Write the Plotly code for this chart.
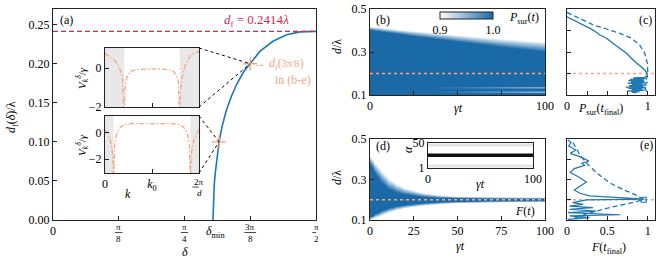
import numpy as np
import plotly.graph_objects as go

W, H = 660, 264
FONT = "Liberation Serif, DejaVu Serif, serif"
BLUE = "#1f77b4"
HEAT_BLUE = "#1b6aa8"
SALMON = "#f4a582"
CRIMSON = "#d6274d"
LC = "#222222"

# ---------------- panel (a): d_f(delta) ----------------
delta_curve = [0.9553, 0.9565, 0.959, 0.963, 0.969, 0.977, 0.992, 1.010, 1.035, 1.065,
               1.100, 1.140, 1.178, 1.237, 1.316, 1.396, 1.475, 1.5708]
df_curve = [0.000, 0.015, 0.030, 0.045, 0.060, 0.075, 0.100, 0.120, 0.140, 0.158,
            0.175, 0.190, 0.200, 0.216, 0.229, 0.237, 0.2407, 0.2414]
df_limit = 0.2414
delta_min = 0.9553
cross_delta = [3 * np.pi / 8, 0.992]
cross_df = [0.200, 0.100]
a_xtickvals = [0, np.pi / 8, np.pi / 4, 3 * np.pi / 8, np.pi / 2]
a_frac_num = ["", "π", "π", "3π", "π"]
a_frac_den = ["0", "8", "4", "8", "2"]
a_ytickvals = [0.00, 0.05, 0.10, 0.15, 0.20, 0.25]

# inset 1 (delta = 3pi/8)
k1 = [0, 0.089, 0.143, 0.179, 0.189, 0.200, 0.204, 0.211, 0.221, 0.239, 0.268, 0.321, 0.411, 0.5,
      0.589, 0.679, 0.732, 0.761, 0.779, 0.789, 0.796, 0.800, 0.811, 0.820, 0.857, 0.911, 0.96, 1.0]
V1 = [0.74, 0.48, 0.12, -0.32, -0.67, -1.2, -3.0, -1.2, -0.67, -0.41, -0.18, -0.09, -0.05, -0.04,
      -0.05, -0.09, -0.18, -0.41, -0.67, -1.2, -3.0, -1.2, -0.67, -0.50, 0.21, 0.65, 0.80, 0.85]
gap1 = [0.204, 0.796]
# inset 2 (delta near delta_min)
k2 = [0, 0.025, 0.055, 0.073, 0.085, 0.091, 0.097, 0.102, 0.116, 0.135, 0.164, 0.2, 0.273, 0.5,
      0.727, 0.8, 0.836, 0.865, 0.884, 0.898, 0.903, 0.909, 0.915, 0.927, 0.945, 0.975, 1.0]
V2 = [0.2, -0.05, -0.55, -1.2, -2.0, -4.0, -2.0, -1.05, -0.3, 0.08, 0.4, 0.58, 0.68, 0.70,
      0.68, 0.58, 0.4, 0.08, -0.3, -1.05, -2.0, -4.0, -2.0, -1.2, -0.55, -0.05, 0.25]
gap2 = [0.091, 0.909]

# ---------------- panel (b): P_sur(t) map ----------------
b_edge_t = [0, 25, 50, 75, 100]
b_edge_white = [0.418, 0.398, 0.379, 0.362, 0.348]
b_edge_full = [0.402, 0.373, 0.348, 0.323, 0.301]
stripe_d = [0.112, 0.118, 0.124, 0.130, 0.136, 0.142, 0.148]
stripe_depth = [0.05, 0.03, 0.06, 0.025, 0.045, 0.02, 0.03]
stripe_onset = 35

# ---------------- panel (c): P_sur(t_final) ----------------
c_solid_d = [0.464, 0.449, 0.433, 0.418, 0.402, 0.379, 0.364, 0.340, 0.317, 0.294, 0.263, 0.235,
             0.216, 0.201, 0.188, 0.182, 0.179, 0.176, 0.173, 0.170, 0.167, 0.164, 0.161, 0.158,
             0.155, 0.152, 0.149, 0.146, 0.143, 0.140, 0.137, 0.134, 0.131, 0.128, 0.125, 0.122,
             0.119, 0.116, 0.113, 0.110]
c_solid_P = [0.000, 0.078, 0.160, 0.243, 0.325, 0.407, 0.490, 0.572, 0.654, 0.737, 0.819, 0.901,
             0.963, 0.992, 0.99, 0.96, 0.82, 0.97, 0.78, 0.95, 0.76, 0.96, 0.79, 0.97, 0.75, 0.94,
             0.80, 0.97, 0.77, 0.95, 0.73, 0.98, 0.76, 0.93, 0.80, 0.96, 0.75, 0.90, 0.80, 0.86]
c_dash_d = [0.484, 0.457, 0.426, 0.407, 0.387, 0.364, 0.333, 0.294, 0.247, 0.209, 0.185, 0.170,
            0.160, 0.150, 0.140, 0.130, 0.120, 0.110]
c_dash_P = [0.000, 0.160, 0.325, 0.490, 0.654, 0.800, 0.900, 0.963, 0.996, 1.000, 0.995, 0.975,
            0.995, 0.965, 0.99, 0.965, 0.985, 0.97]

# ---------------- panel (d): F(t) map ----------------
f_t = [0, 5, 10, 15, 20, 30, 40, 50, 75, 100]
f_up_out = [0.415, 0.360, 0.310, 0.280, 0.258, 0.234, 0.222, 0.216, 0.213, 0.212]
f_up_in = [0.375, 0.300, 0.255, 0.235, 0.225, 0.213, 0.208, 0.206, 0.204, 0.203]
f_lo_in = [0.115, 0.140, 0.158, 0.168, 0.175, 0.184, 0.189, 0.192, 0.195, 0.196]
f_lo_out = [0.100, 0.115, 0.133, 0.148, 0.158, 0.170, 0.178, 0.183, 0.187, 0.189]
alpha_t = [0, 100]
alpha_line = [26, 26]
alpha_faint = [[46, 46], [5, 5]]

# ---------------- panel (e): F(t_final) ----------------
e_solid_d = [0.495, 0.482, 0.465, 0.446, 0.429, 0.413, 0.391, 0.380, 0.370, 0.354, 0.334, 0.314,
             0.288, 0.268, 0.248, 0.232, 0.219, 0.203, 0.199, 0.186, 0.177, 0.169, 0.161, 0.153,
             0.144, 0.136, 0.126, 0.120, 0.112, 0.103]
e_solid_F = [0.01, 0.05, 0.02, 0.11, 0.04, 0.16, 0.27, 0.18, 0.22, 0.09, 0.04, 0.14, 0.24, 0.16,
             0.09, 0.16, 0.28, 0.96, 0.24, 0.07, 0.20, 0.03, 0.32, 0.03, 0.36, 0.01, 0.66, 0.03,
             0.28, 0.01]
e_dash_d = [0.482, 0.424, 0.383, 0.334, 0.284, 0.251, 0.227, 0.200, 0.188, 0.177, 0.161, 0.144,
            0.123, 0.107]
e_dash_F = [0.074, 0.156, 0.239, 0.362, 0.527, 0.691, 0.835, 0.950, 0.835, 0.691, 0.527, 0.362,
            0.198, 0.074]
e_peak = [0.950, 0.200]

d_target = 0.200

# ---------------- layout geometry (pixels) ----------------
def px_x(x):
    return x / W

def px_y(y):
    return 1 - y / H

A_X = [px_x(53), px_x(316)]
A_Y = [px_y(220), px_y(9)]
B_X = [px_x(370), px_x(545)]
C_X = [px_x(567), px_x(655)]
TOP_Y = [px_y(95), px_y(9)]
BOT_Y = [px_y(220), px_y(139)]
I1_X = [px_x(105), px_x(199)]
I1_Y = [px_y(107), px_y(48)]
I2_Y = [px_y(173), px_y(116)]
ID_X = [px_x(428), px_x(533)]
ID_Y = [px_y(168), px_y(143)]
A_RANGE_X = [0, np.pi / 2]
A_RANGE_Y = [0, 0.27]
I1_RANGE = [-2.0, 1.03]
I2_RANGE = [-3.05, 1.25]

fig = go.Figure()

def sc(x, y, ax, **kw):
    fig.add_trace(go.Scatter(x=x, y=y, xaxis="x" + ax, yaxis="y" + ax, showlegend=False,
                             hoverinfo="skip", **kw))

# (a)
sc(delta_curve, df_curve, "", mode="lines", line=dict(color=BLUE, width=1.6))
sc([0, np.pi / 2], [df_limit, df_limit], "", mode="lines",
   line=dict(color=CRIMSON, width=1.3, dash="5px,3px"))
sc(cross_delta, cross_df, "", mode="markers",
   marker=dict(symbol="cross-thin", size=10, line=dict(color=SALMON, width=1.4)))

# inset 1
for g0, g1 in [(0, gap1[0]), (gap1[1], 1)]:
    sc([g0, g1, g1, g0, g0], [I1_RANGE[0], I1_RANGE[0], I1_RANGE[1], I1_RANGE[1], I1_RANGE[0]], "6",
       mode="lines", fill="toself", fillcolor="#e8e8e8", line=dict(width=0))
sc(k1, V1, "6", mode="lines", line=dict(color=SALMON, width=1.3, dash="5px,2px,1.5px,2px"))
# inset 2
for g0, g1 in [(0, gap2[0]), (gap2[1], 1)]:
    sc([g0, g1, g1, g0, g0], [I2_RANGE[0], I2_RANGE[0], I2_RANGE[1], I2_RANGE[1], I2_RANGE[0]], "7",
       mode="lines", fill="toself", fillcolor="#e8e8e8", line=dict(width=0))
sc(k2, V2, "7", mode="lines", line=dict(color=SALMON, width=1.3, dash="5px,2px,1.5px,2px"))

# (b) heatmap
t_grid = np.linspace(0, 100, 201)
d_grid = np.linspace(0.1, 0.5, 321)
T, D = np.meshgrid(t_grid, d_grid)
white = np.interp(T, b_edge_t, b_edge_white)
full = np.interp(T, b_edge_t, b_edge_full)
zb = 1.0 - 0.1 * np.clip((D - full) / (white - full), 0, 1.5)
onset = np.clip((T - stripe_onset) / (100 - stripe_onset), 0, 1)
for sd, dep in zip(stripe_d, stripe_depth):
    mask = np.abs(D - sd) < 0.0016
    zb = np.where(mask, np.minimum(zb, 1.0 - dep * onset), zb)
cscale = [[0, "#ffffff"], [1, HEAT_BLUE]]
fig.add_trace(go.Heatmap(x=t_grid, y=d_grid, z=zb, zmin=0.9, zmax=1.0, colorscale=cscale,
                         zsmooth="best", xaxis="x2", yaxis="y2", hoverinfo="skip",
                         colorbar=dict(orientation="h", x=px_x(466.5), xanchor="center",
                                       y=px_y(12), yanchor="top", len=53 / W, lenmode="fraction",
                                       thickness=7, thicknessmode="pixels", xpad=0, ypad=0,
                                       outlinewidth=1, outlinecolor=LC, ticks="",
                                       tickvals=[0.9, 1.0], ticktext=["0.9", "1.0"],
                                       tickfont=dict(family=FONT, size=12, color="black"))))
sc([0, 100], [d_target, d_target], "2", mode="lines", line=dict(color=SALMON, width=1.3, dash="dot"))

# (c)
sc([0, 1.09], [d_target, d_target], "3", mode="lines", line=dict(color=SALMON, width=1.3, dash="dot"))
sc(c_dash_P, c_dash_d, "3", mode="lines", line=dict(color=BLUE, width=1.3, dash="5px,3px"))
sc(c_solid_P, c_solid_d, "3", mode="lines", line=dict(color=BLUE, width=1.3))

# (d) heatmap
uo = np.interp(T, f_t, f_up_out)
ui = np.interp(T, f_t, f_up_in)
li = np.interp(T, f_t, f_lo_in)
lo = np.interp(T, f_t, f_lo_out)
zd = np.ones_like(D)
zd = np.where(D > ui, np.clip((uo - D) / (uo - ui), 0, 1), zd)
zd = np.where(D < li, np.clip((D - lo) / (li - lo), 0, 1), zd)
fig.add_trace(go.Heatmap(x=t_grid, y=d_grid, z=zd, zmin=0, zmax=1, colorscale=cscale,
                         zsmooth="best", showscale=False, xaxis="x4", yaxis="y4", hoverinfo="skip"))
sc([0, 100], [d_target, d_target], "4", mode="lines", line=dict(color=SALMON, width=1.3, dash="dot"))

# inset (d)
for fa in alpha_faint:
    sc(alpha_t, fa, "8", mode="lines", line=dict(color="#e4e4e4", width=3))
sc(alpha_t, alpha_line, "8", mode="lines", line=dict(color="#111111", width=3.5))

# (e)
sc([0, 1.09], [d_target, d_target], "5", mode="lines", line=dict(color=SALMON, width=1.3, dash="dot"))
sc(e_dash_F, e_dash_d, "5", mode="lines", line=dict(color=BLUE, width=1.3, dash="5px,3px"))
sc(e_solid_F, e_solid_d, "5", mode="lines", line=dict(color=BLUE, width=1.2))
sc([e_peak[0]], [e_peak[1]], "5", mode="markers",
   marker=dict(symbol="square-open", size=5, color=BLUE, line=dict(width=1.2)))


def axis(domain, rng, anchor, **kw):
    d = dict(domain=domain, range=rng, anchor=anchor, showline=True, mirror=True, linecolor=LC,
             linewidth=1, ticks="inside", ticklen=4, tickcolor=LC, tickwidth=1, showgrid=False,
             zeroline=False, tickfont=dict(family=FONT, size=12, color="black"), automargin=False)
    d.update(kw)
    return d


layout = dict(
    width=W, height=H, margin=dict(l=0, r=0, t=0, b=0, pad=0, autoexpand=False),
    paper_bgcolor="white", plot_bgcolor="white",
    font=dict(family=FONT, size=12, color="black"), showlegend=False,
    xaxis=axis(A_X, A_RANGE_X, "y", tickvals=a_xtickvals, showticklabels=False),
    yaxis=axis(A_Y, A_RANGE_Y, "x", tickvals=a_ytickvals, tickformat=".2f"),
    xaxis2=axis(B_X, [0, 100], "y2", tickvals=[0, 25, 50, 75, 100], ticktext=["0", "", "", "", "100"]),
    yaxis2=axis(TOP_Y, [0.1, 0.5], "x2", tickvals=[0.1, 0.3, 0.5], ticktext=["0.1", "0.3", "0.5"]),
    xaxis3=axis(C_X, [0, 1.09], "y3", tickvals=[0, 0.25, 0.5, 0.75, 1], ticktext=["0", "", "", "", "1"]),
    yaxis3=axis(TOP_Y, [0.1, 0.5], "x3", tickvals=[0.2, 0.3, 0.4], showticklabels=False),
    xaxis4=axis(B_X, [0, 100], "y4", tickvals=[0, 25, 50, 75, 100]),
    yaxis4=axis(BOT_Y, [0.1, 0.5], "x4", tickvals=[0.1, 0.3, 0.5], ticktext=["0.1", "0.3", "0.5"]),
    xaxis5=axis(C_X, [0, 1.09], "y5", tickvals=[0, 0.25, 0.5, 0.75, 1], ticktext=["0", "", "0.5", "", "1"]),
    yaxis5=axis(BOT_Y, [0.1, 0.5], "x5", tickvals=[0.2, 0.3, 0.4], showticklabels=False),
    xaxis6=axis(I1_X, [0, 1], "y6", tickvals=[0.5], showticklabels=False),
    yaxis6=axis(I1_Y, I1_RANGE, "x6", tickvals=[0, -2], ticktext=["0", "−2"]),
    xaxis7=axis(I1_X, [0, 1], "y7", tickvals=[0, 0.5, 1], ticktext=["0", "<i>k</i><sub>0</sub>", ""]),
    yaxis7=axis(I2_Y, I2_RANGE, "x7", tickvals=[0, -2], ticktext=["0", "−2"]),
    xaxis8=axis(ID_X, [0, 100], "y8", tickvals=[0, 100], ticks=""),
    yaxis8=axis(ID_Y, [1, 50], "x8", tickvals=[1, 50], ticks=""),
)

# dotted connectors from inset corners to the marked points (in panel-a data coords)
def to_a(xp, yp):
    xd = (xp - A_X[0]) / (A_X[1] - A_X[0]) * (A_RANGE_X[1] - A_RANGE_X[0]) + A_RANGE_X[0]
    yd = (yp - A_Y[0]) / (A_Y[1] - A_Y[0]) * (A_RANGE_Y[1] - A_RANGE_Y[0]) + A_RANGE_Y[0]
    return xd, yd

shapes = []
for (iy, k) in [(I1_Y, 0), (I2_Y, 1)]:
    for yp in iy:
        x0, y0 = to_a(I1_X[1], yp)
        shapes.append(dict(type="line", xref="x", yref="y", x0=x0, y0=y0, x1=cross_delta[k],
                           y1=cross_df[k], line=dict(color="black", width=1, dash="dot")))


def ann(xp, yp, text, size=12, color="black", angle=0, xanchor="center", yanchor="middle",
        xref="paper", xval=None):
    return dict(x=px_x(xp) if xval is None else xval, y=px_y(yp), xref=xref, yref="paper",
                text=text, showarrow=False, font=dict(family=FONT, size=size, color=color),
                textangle=angle, xanchor=xanchor, yanchor=yanchor)


annotations = [
    ann(66, 20, "(a)"),
    ann(256, 20, "<i>d</i><sub>f</sub> = 0.2414<i>λ</i>", size=13, color=CRIMSON),
    ann(252, 64, "→ <i>d</i><sub>f</sub>(<span style='font-size:10px'>3π/8</span>)", color=SALMON,
        xanchor="left"),
    ann(293, 80, "in (b-e)", color=SALMON),
    ann(215, 232, "<i>δ</i><sub>min</sub>"),
    ann(185, 252, "<i>δ</i>"),
    ann(12, 117, "<i>d</i><sub>f</sub>(<i>δ</i>)/λ", angle=-90),
    ann(82, 78, "<i>V</i><sub><i>k</i></sub><sup><i>δ</i></sup>/<i>γ</i>", size=11, angle=-90),
    ann(82, 145, "<i>V</i><sub><i>k</i></sub><sup><i>δ</i></sup>/<i>γ</i>", size=11, angle=-90),
    ann(128, 194, "<i>k</i>"),
    ann(383, 20, "(b)"),
    ann(524, 18, "<i>P</i><sub>sur</sub>(<i>t</i>)"),
    ann(645, 20, "(c)"),
    ann(337, 47, "<i>d</i>/λ", angle=-90),
    ann(458, 108, "<i>γt</i>"),
    ann(600, 109, "<i>P</i><sub>sur</sub>(<i>t</i><sub>final</sub>)"),
    ann(383, 146, "(d)"),
    ann(525, 211, "<i>F</i>(<i>t</i>)"),
    ann(337, 178, "<i>d</i>/λ", angle=-90),
    ann(460, 246, "<i>γt</i>"),
    ann(646, 145, "(e)"),
    ann(608, 248, "<i>F</i>(<i>t</i><sub>final</sub>)"),
    ann(408, 150, "<i>α</i>", angle=-90),
    ann(480, 184, "<i>γt</i>"),
]

# fraction tick labels of panel (a)
for val, num, den in zip(a_xtickvals, a_frac_num, a_frac_den):
    if num == "":
        annotations.append(ann(0, 231, den, xref="x", xval=val))
        continue
    annotations.append(ann(0, 227, num, size=9, xref="x", xval=val))
    annotations.append(ann(0, 238.5, den, size=9, xref="x", xval=val))
    half = 0.035 if len(num) > 1 else 0.022
    shapes.append(dict(type="line", xref="x", yref="paper", x0=val - half, x1=val + half,
                       y0=px_y(232.5), y1=px_y(232.5), line=dict(color="black", width=0.7)))
# 2pi/d tick label of inset 2
annotations.append(ann(0, 182, "2π", size=9, xref="x7", xval=1))
annotations.append(ann(0, 192.5, "<i>d</i>", size=9, xref="x7", xval=1))
shapes.append(dict(type="line", xref="x7", yref="paper", x0=0.93, x1=1.07,
                   y0=px_y(187), y1=px_y(187), line=dict(color="black", width=0.7)))

layout["shapes"] = shapes
layout["annotations"] = annotations

fig.update_layout(**layout)
fig.write_html("out.html", config={"displayModeBar": False, "staticPlot": True},
               post_script="document.body.style.margin='0';document.body.style.overflow='hidden';")
